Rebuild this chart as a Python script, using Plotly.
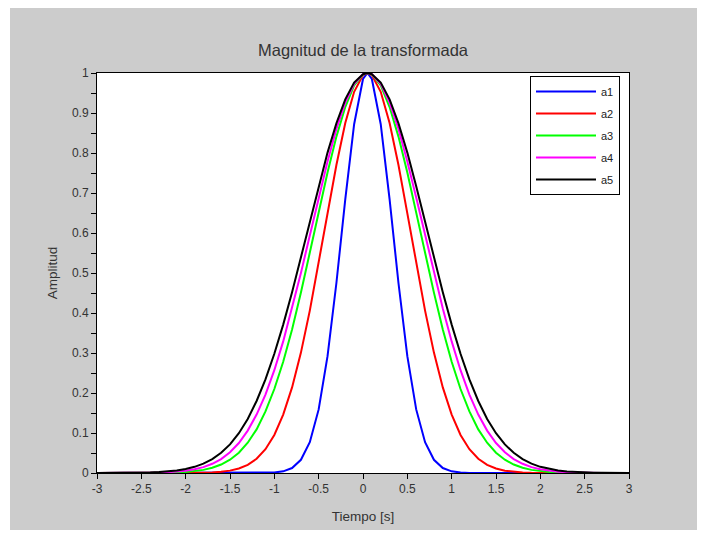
import plotly.graph_objects as go

# sampling axis (time, s)
t = [-3.0, -2.9, -2.8, -2.7, -2.6, -2.5, -2.4, -2.3, -2.2, -2.1,
     -2.0, -1.9, -1.8, -1.7, -1.6, -1.5, -1.4, -1.3, -1.2, -1.1,
     -1.0, -0.9, -0.8, -0.7, -0.6, -0.5, -0.4, -0.3, -0.2, -0.1,
     0.0, 0.05, 0.1, 0.2, 0.3, 0.4, 0.5, 0.6, 0.7, 0.8, 0.9,
     1.0, 1.1, 1.2, 1.3, 1.4, 1.5, 1.6, 1.7, 1.8, 1.9,
     2.0, 2.1, 2.2, 2.3, 2.4, 2.5, 2.6, 2.7, 2.8, 2.9, 3.0]

# peak value at t=0.05
peak = [1.0, 1.0, 1.0, 1.0, 1.0]

# half-curve values moving away from the peak (t=0.1, 0.2, ... on the right;
# t=0.0, -0.1, ... on the left)
a1_half = [0.985, 0.872, 0.684, 0.475, 0.292, 0.159, 0.077, 0.033, 0.0124, 0.0042,
           0.0012, 0.0003, 0, 0, 0, 0, 0, 0, 0, 0,
           0, 0, 0, 0, 0, 0, 0, 0, 0, 0, 0]
a2_half = [0.995, 0.953, 0.875, 0.770, 0.649, 0.524, 0.406, 0.301, 0.214, 0.146,
           0.095, 0.0594, 0.0356, 0.0204, 0.0112, 0.0059, 0.0030, 0.0014, 0.0007, 0.0003,
           0, 0, 0, 0, 0, 0, 0, 0, 0, 0, 0]
a3_half = [0.996, 0.969, 0.915, 0.841, 0.751, 0.651, 0.550, 0.451, 0.359, 0.278,
           0.210, 0.154, 0.109, 0.0756, 0.0508, 0.0332, 0.0211, 0.0130, 0.0078, 0.0046,
           0.0026, 0.0014, 0.0008, 0.0004, 0, 0, 0, 0, 0, 0, 0]
a4_half = [0.997, 0.973, 0.926, 0.860, 0.779, 0.689, 0.594, 0.500, 0.411, 0.329,
           0.257, 0.196, 0.146, 0.106, 0.075, 0.0518, 0.0349, 0.0230, 0.0147, 0.0092,
           0.0056, 0.0034, 0.0020, 0.0011, 0.0006, 0.0003, 0, 0, 0, 0, 0]
a5_half = [0.997, 0.976, 0.934, 0.874, 0.801, 0.717, 0.629, 0.539, 0.452, 0.371,
           0.298, 0.234, 0.180, 0.135, 0.0995, 0.0716, 0.0504, 0.0347, 0.0234, 0.0154,
           0.0099, 0.0063, 0.0039, 0.0023, 0.0014, 0.0008, 0.0004, 0, 0, 0, 0]

def full(half, pk):
    # left side: t=-3.0 .. 0.0 ; peak at 0.05 ; right side: t=0.1 .. 3.0
    return list(reversed(half)) + [pk] + half[:30]

series_names = ["a1", "a2", "a3", "a4", "a5"]
halves = [a1_half, a2_half, a3_half, a4_half, a5_half]
series_vals = [full(h, p) for h, p in zip(halves, peak)]
colors = ["#0000ff", "#ff0000", "#00ff00", "#ff00ff", "#000000"]

x_ticks = [-3, -2.5, -2, -1.5, -1, -0.5, 0, 0.5, 1, 1.5, 2, 2.5, 3]
x_labels = ["-3", "-2.5", "-2", "-1.5", "-1", "-0.5", "0", "0.5", "1", "1.5", "2", "2.5", "3"]
y_ticks = [0, 0.1, 0.2, 0.3, 0.4, 0.5, 0.6, 0.7, 0.8, 0.9, 1]
y_labels = ["0", "0.1", "0.2", "0.3", "0.4", "0.5", "0.6", "0.7", "0.8", "0.9", "1"]

fig = go.Figure()
for name, vals, c in zip(series_names, series_vals, colors):
    fig.add_trace(go.Scatter(x=t, y=vals, mode="lines", name=name, legendgroup=name,
                             line=dict(color=c, width=2)))

font_family = "Liberation Sans, Arial, sans-serif"
W, H = 705, 537
L, R, T, B = 97, 76, 73, 64
pw, ph = W - L - R, H - T - B

def px(xp):
    return (xp - L) / pw

def py(yp):
    return (H - B - yp) / ph

fig.update_layout(
    width=W, height=H,
    margin=dict(l=L, r=R, t=T, b=B, pad=0),
    paper_bgcolor="white",
    plot_bgcolor="white",
    font=dict(family=font_family, color="#333333", size=12),
    title=dict(text="Magnitud de la transformada", x=0.5, xanchor="center",
               xref="paper", y=1 - 50 / H, yanchor="middle",
               font=dict(size=16.5, color="#333333")),
    showlegend=True,
    legend=dict(x=px(530), y=py(76), xanchor="left", yanchor="top",
                bgcolor="white", bordercolor="black", borderwidth=1,
                tracegroupgap=3, itemwidth=60,
                font=dict(size=11, color="#222222")),
    shapes=[
        dict(type="rect", xref="paper", yref="paper",
             x0=px(10), x1=px(697), y0=py(530), y1=py(8),
             fillcolor="#cccccc", line=dict(width=0), layer="below"),
        dict(type="rect", xref="paper", yref="paper",
             x0=0, x1=1, y0=0, y1=1,
             fillcolor="white", line=dict(width=0), layer="below"),
    ],
)

fig.update_xaxes(range=[-3, 3], tickvals=x_ticks, ticktext=x_labels,
                 ticks="outside", ticklen=5, tickcolor="black",
                 showline=True, linecolor="black", linewidth=1, mirror=True,
                 showgrid=False, zeroline=False,
                 title=dict(text="Tiempo [s]", font=dict(size=13.5, color="#333333"), standoff=16))
fig.update_yaxes(range=[0, 1], tickvals=y_ticks, ticktext=y_labels,
                 ticks="outside", ticklen=5, tickcolor="black",
                 minor=dict(dtick=0.05, tick0=0, ticks="outside", ticklen=5, tickcolor="black"),
                 showline=True, linecolor="black", linewidth=1, mirror=True,
                 showgrid=False, zeroline=False,
                 title=dict(text="Amplitud", font=dict(size=13.5, color="#333333"), standoff=11))

fig.write_html("out.html")
